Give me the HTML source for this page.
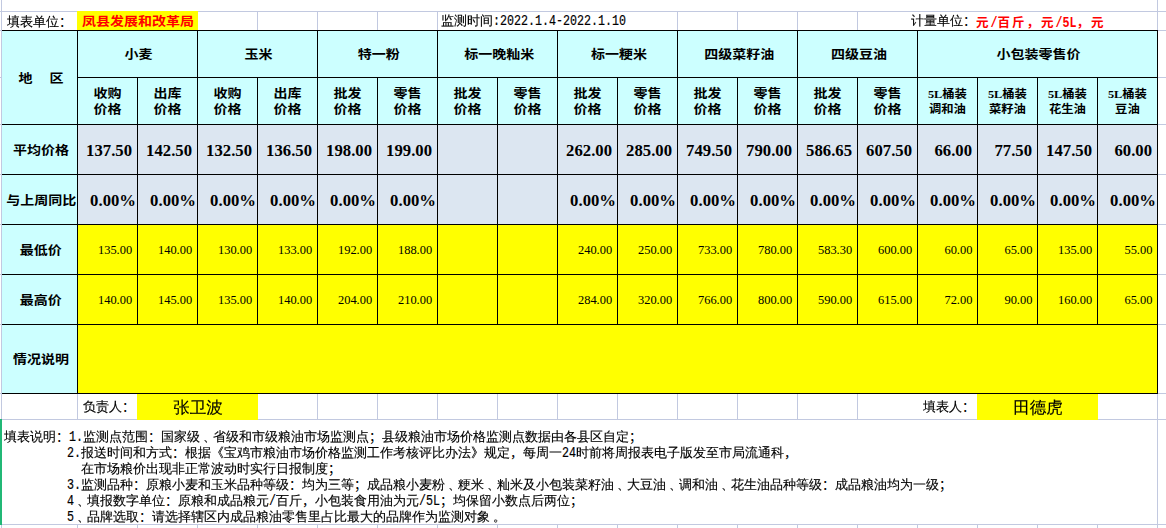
<!DOCTYPE html>
<html lang="zh-CN"><head><meta charset="utf-8"><title>粮油市场价格监测周报表</title>
<style>
html,body{margin:0;padding:0;background:#fff}
body{width:1166px;height:528px;position:relative;overflow:hidden;font-family:"Liberation Sans","WenQuanYi Zen Hei",sans-serif;color:#000}
div{position:absolute;box-sizing:border-box}
.c{display:flex;align-items:center;justify-content:center;text-align:center;white-space:nowrap}
.c span{display:block}
.s,.n{font-family:"Liberation Sans","WenQuanYi Zen Hei",sans-serif;font-size:13px;line-height:16px;white-space:nowrap;-webkit-text-stroke:.15px #000}
i{font-style:normal;font-family:"Liberation Mono",monospace;font-size:11.67px;display:inline-block;transform:scaleY(1.25);transform-origin:0 74%}
.l{justify-content:flex-start;padding-left:5px;padding-top:1px}
.l0{justify-content:flex-start;padding-left:4px}
.l1{justify-content:flex-start;padding-left:6px}
.l2{justify-content:flex-start;padding-left:5px}
.r1{justify-content:flex-end;padding-right:2px}
.red{color:#f00}
s{text-decoration:none;position:relative;left:3px}
u{text-decoration:none;font-family:"Liberation Sans","Noto Sans CJK SC",sans-serif;-webkit-text-stroke:0;line-height:0}
.hb{font-family:"Liberation Serif","Noto Sans CJK SC",sans-serif;font-weight:700;font-size:12.5px;line-height:16px}
.hb span,.hs span{transform:scaleX(1.12)}
.hb,.hs,.nb{padding-top:2px}
.l2 span{transform-origin:left center}
.ca{padding-left:3px}
.hs{font-family:"Liberation Serif","Noto Sans CJK SC",sans-serif;font-weight:700;font-size:11px;line-height:15px}
.ur{font-family:"Liberation Serif","Noto Sans CJK SC",sans-serif;font-weight:700;font-size:12.5px;letter-spacing:2px;color:#f00;justify-content:flex-start;padding-top:0}
.ur i{font-weight:bold;letter-spacing:0}
.nb{font-family:"Liberation Serif",serif;font-weight:bold;font-size:16.7px}
.nb{justify-content:flex-end;padding-right:5px}
.pc{padding-right:1px}
.nr{font-family:"Liberation Serif",serif;font-size:13.5px;justify-content:flex-end;padding-right:5px}
.nr span{transform:scaleX(.92);transform-origin:right center}
.name{font-family:"Liberation Sans","WenQuanYi Zen Hei",sans-serif;font-size:16.5px;-webkit-text-stroke:.15px #000;padding-top:3px;padding-left:2px}
</style></head>
<body>
<div style="left:0px;top:11px;width:1166px;height:1px;background:#c2c9e0;"></div>
<div style="left:0px;top:30px;width:1166px;height:1px;background:#c2c9e0;"></div>
<div style="left:0px;top:77px;width:1166px;height:1px;background:#c2c9e0;"></div>
<div style="left:0px;top:124px;width:1166px;height:1px;background:#c2c9e0;"></div>
<div style="left:0px;top:174px;width:1166px;height:1px;background:#c2c9e0;"></div>
<div style="left:0px;top:224px;width:1166px;height:1px;background:#c2c9e0;"></div>
<div style="left:0px;top:274px;width:1166px;height:1px;background:#c2c9e0;"></div>
<div style="left:0px;top:324px;width:1166px;height:1px;background:#c2c9e0;"></div>
<div style="left:0px;top:393px;width:1166px;height:1px;background:#c2c9e0;"></div>
<div style="left:0px;top:419px;width:1166px;height:1px;background:#c2c9e0;"></div>
<div style="left:0px;top:524px;width:1166px;height:1px;background:#c2c9e0;"></div>
<div style="left:1px;top:0px;width:1px;height:528px;background:#c2c9e0;"></div>
<div style="left:1157px;top:0px;width:1px;height:528px;background:#c2c9e0;"></div>
<div style="left:257px;top:12px;width:1px;height:18px;background:#c2c9e0;"></div>
<div style="left:317px;top:12px;width:1px;height:18px;background:#c2c9e0;"></div>
<div style="left:377px;top:12px;width:1px;height:18px;background:#c2c9e0;"></div>
<div style="left:437px;top:12px;width:1px;height:18px;background:#c2c9e0;"></div>
<div style="left:677px;top:12px;width:1px;height:18px;background:#c2c9e0;"></div>
<div style="left:737px;top:12px;width:1px;height:18px;background:#c2c9e0;"></div>
<div style="left:797px;top:12px;width:1px;height:18px;background:#c2c9e0;"></div>
<div style="left:857px;top:12px;width:1px;height:18px;background:#c2c9e0;"></div>
<div style="left:77px;top:394px;width:1px;height:25px;background:#c2c9e0;"></div>
<div style="left:317px;top:394px;width:1px;height:25px;background:#c2c9e0;"></div>
<div style="left:377px;top:394px;width:1px;height:25px;background:#c2c9e0;"></div>
<div style="left:437px;top:394px;width:1px;height:25px;background:#c2c9e0;"></div>
<div style="left:497px;top:394px;width:1px;height:25px;background:#c2c9e0;"></div>
<div style="left:557px;top:394px;width:1px;height:25px;background:#c2c9e0;"></div>
<div style="left:617px;top:394px;width:1px;height:25px;background:#c2c9e0;"></div>
<div style="left:677px;top:394px;width:1px;height:25px;background:#c2c9e0;"></div>
<div style="left:737px;top:394px;width:1px;height:25px;background:#c2c9e0;"></div>
<div style="left:797px;top:394px;width:1px;height:25px;background:#c2c9e0;"></div>
<div style="left:857px;top:394px;width:1px;height:25px;background:#c2c9e0;"></div>
<div style="left:77px;top:525px;width:1px;height:3px;background:#c2c9e0;"></div>
<div style="left:137px;top:525px;width:1px;height:3px;background:#c2c9e0;"></div>
<div style="left:197px;top:525px;width:1px;height:3px;background:#c2c9e0;"></div>
<div style="left:257px;top:525px;width:1px;height:3px;background:#c2c9e0;"></div>
<div style="left:317px;top:525px;width:1px;height:3px;background:#c2c9e0;"></div>
<div style="left:377px;top:525px;width:1px;height:3px;background:#c2c9e0;"></div>
<div style="left:437px;top:525px;width:1px;height:3px;background:#c2c9e0;"></div>
<div style="left:497px;top:525px;width:1px;height:3px;background:#c2c9e0;"></div>
<div style="left:557px;top:525px;width:1px;height:3px;background:#c2c9e0;"></div>
<div style="left:617px;top:525px;width:1px;height:3px;background:#c2c9e0;"></div>
<div style="left:677px;top:525px;width:1px;height:3px;background:#c2c9e0;"></div>
<div style="left:737px;top:525px;width:1px;height:3px;background:#c2c9e0;"></div>
<div style="left:797px;top:525px;width:1px;height:3px;background:#c2c9e0;"></div>
<div style="left:857px;top:525px;width:1px;height:3px;background:#c2c9e0;"></div>
<div style="left:917px;top:525px;width:1px;height:3px;background:#c2c9e0;"></div>
<div style="left:977px;top:525px;width:1px;height:3px;background:#c2c9e0;"></div>
<div style="left:1037px;top:525px;width:1px;height:3px;background:#c2c9e0;"></div>
<div style="left:1097px;top:525px;width:1px;height:3px;background:#c2c9e0;"></div>
<div style="left:0px;top:419px;width:2px;height:106px;background:#21b876;"></div>
<div style="left:2px;top:31px;width:1155px;height:362px;background:#ccffff;"></div>
<div style="left:78px;top:125px;width:1079px;height:99px;background:#dce6f1;"></div>
<div style="left:78px;top:225px;width:1079px;height:168px;background:#ffff00;"></div>
<div style="left:77px;top:11px;width:121px;height:19px;background:#ffff00;"></div>
<div style="left:137px;top:394px;width:121px;height:26px;background:#ffff00;"></div>
<div style="left:977px;top:394px;width:121px;height:26px;background:#ffff00;"></div>
<div style="left:2px;top:30px;width:1156px;height:1px;background:#000;"></div>
<div style="left:77px;top:77px;width:1081px;height:1px;background:#000;"></div>
<div style="left:2px;top:124px;width:1156px;height:1px;background:#000;"></div>
<div style="left:2px;top:174px;width:1156px;height:1px;background:#000;"></div>
<div style="left:2px;top:224px;width:1156px;height:1px;background:#000;"></div>
<div style="left:2px;top:274px;width:1156px;height:1px;background:#000;"></div>
<div style="left:2px;top:324px;width:1156px;height:1px;background:#000;"></div>
<div style="left:2px;top:393px;width:1156px;height:1px;background:#000;"></div>
<div style="left:1157px;top:30px;width:1px;height:364px;background:#000;"></div>
<div style="left:77px;top:30px;width:1px;height:364px;background:#000;"></div>
<div style="left:197px;top:30px;width:1px;height:295px;background:#000;"></div>
<div style="left:317px;top:30px;width:1px;height:295px;background:#000;"></div>
<div style="left:437px;top:30px;width:1px;height:295px;background:#000;"></div>
<div style="left:557px;top:30px;width:1px;height:295px;background:#000;"></div>
<div style="left:677px;top:30px;width:1px;height:295px;background:#000;"></div>
<div style="left:797px;top:30px;width:1px;height:295px;background:#000;"></div>
<div style="left:917px;top:30px;width:1px;height:295px;background:#000;"></div>
<div style="left:1037px;top:30px;width:1px;height:295px;background:#000;"></div>
<div style="left:137px;top:77px;width:1px;height:248px;background:#000;"></div>
<div style="left:257px;top:77px;width:1px;height:248px;background:#000;"></div>
<div style="left:377px;top:77px;width:1px;height:248px;background:#000;"></div>
<div style="left:497px;top:77px;width:1px;height:248px;background:#000;"></div>
<div style="left:617px;top:77px;width:1px;height:248px;background:#000;"></div>
<div style="left:737px;top:77px;width:1px;height:248px;background:#000;"></div>
<div style="left:857px;top:77px;width:1px;height:248px;background:#000;"></div>
<div style="left:977px;top:77px;width:1px;height:248px;background:#000;"></div>
<div style="left:1097px;top:77px;width:1px;height:248px;background:#000;"></div>
<div style="left:1037px;top:31px;width:1px;height:46px;background:#ccffff;"></div>
<div class="c s l" style="left:2px;top:12px;width:75px;height:18px"><span>填表单位<u>：</u></span></div>
<div class="c hb red l2" style="left:77px;top:12px;width:120px;height:18px"><span>凤县发展和改革局</span></div>
<div class="c s l0" style="left:437px;top:12px;width:240px;height:18px"><span>监测时间<i>:2022.1.4-2022.1.10</i></span></div>
<div class="c s l1" style="left:905px;top:12px;width:71px;height:18px"><span>计量单位<u>：</u></span></div>
<div class="c ur" style="left:976px;top:12px;width:181px;height:18px"><span>元<i>/</i>百斤，元<i>/5L</i>，元</span></div>
<div class="c hb ca" style="left:2px;top:31px;width:75px;height:93px"><span>地&emsp;&thinsp;区</span></div>
<div class="c hb ca" style="left:78px;top:31px;width:119px;height:46px"><span>小麦</span></div>
<div class="c hb ca" style="left:198px;top:31px;width:119px;height:46px"><span>玉米</span></div>
<div class="c hb ca" style="left:318px;top:31px;width:119px;height:46px"><span>特一粉</span></div>
<div class="c hb ca" style="left:438px;top:31px;width:119px;height:46px"><span>标一晚籼米</span></div>
<div class="c hb ca" style="left:558px;top:31px;width:119px;height:46px"><span>标一粳米</span></div>
<div class="c hb ca" style="left:678px;top:31px;width:119px;height:46px"><span>四级菜籽油</span></div>
<div class="c hb ca" style="left:798px;top:31px;width:119px;height:46px"><span>四级豆油</span></div>
<div class="c hb ca" style="left:918px;top:31px;width:239px;height:46px"><span>小包装零售价</span></div>
<div class="c hb" style="left:78px;top:78px;width:59px;height:46px"><span>收购<br>价格</span></div>
<div class="c hb" style="left:138px;top:78px;width:59px;height:46px"><span>出库<br>价格</span></div>
<div class="c hb" style="left:198px;top:78px;width:59px;height:46px"><span>收购<br>价格</span></div>
<div class="c hb" style="left:258px;top:78px;width:59px;height:46px"><span>出库<br>价格</span></div>
<div class="c hb" style="left:318px;top:78px;width:59px;height:46px"><span>批发<br>价格</span></div>
<div class="c hb" style="left:378px;top:78px;width:59px;height:46px"><span>零售<br>价格</span></div>
<div class="c hb" style="left:438px;top:78px;width:59px;height:46px"><span>批发<br>价格</span></div>
<div class="c hb" style="left:498px;top:78px;width:59px;height:46px"><span>零售<br>价格</span></div>
<div class="c hb" style="left:558px;top:78px;width:59px;height:46px"><span>批发<br>价格</span></div>
<div class="c hb" style="left:618px;top:78px;width:59px;height:46px"><span>零售<br>价格</span></div>
<div class="c hb" style="left:678px;top:78px;width:59px;height:46px"><span>批发<br>价格</span></div>
<div class="c hb" style="left:738px;top:78px;width:59px;height:46px"><span>零售<br>价格</span></div>
<div class="c hb" style="left:798px;top:78px;width:59px;height:46px"><span>批发<br>价格</span></div>
<div class="c hb" style="left:858px;top:78px;width:59px;height:46px"><span>零售<br>价格</span></div>
<div class="c hs" style="left:918px;top:78px;width:59px;height:46px"><span>5L桶装<br>调和油</span></div>
<div class="c hs" style="left:978px;top:78px;width:59px;height:46px"><span>5L桶装<br>菜籽油</span></div>
<div class="c hs" style="left:1038px;top:78px;width:59px;height:46px"><span>5L桶装<br>花生油</span></div>
<div class="c hs" style="left:1098px;top:78px;width:59px;height:46px"><span>5L桶装<br>豆油</span></div>
<div class="c hb ca" style="left:2px;top:125px;width:75px;height:49px"><span>平均价格</span></div>
<div class="c hb ca" style="left:2px;top:175px;width:75px;height:49px"><span>与上周同比</span></div>
<div class="c hb ca" style="left:2px;top:225px;width:75px;height:49px"><span>最低价</span></div>
<div class="c hb ca" style="left:2px;top:275px;width:75px;height:49px"><span>最高价</span></div>
<div class="c hb ca" style="left:2px;top:325px;width:75px;height:68px"><span>情况说明</span></div>
<div class="c nb" style="left:78px;top:125px;width:59px;height:49px"><span>137.50</span></div>
<div class="c nb pc" style="left:78px;top:175px;width:59px;height:49px"><span>0.00%</span></div>
<div class="c nr" style="left:78px;top:225px;width:59px;height:49px"><span>135.00</span></div>
<div class="c nr" style="left:78px;top:275px;width:59px;height:49px"><span>140.00</span></div>
<div class="c nb" style="left:138px;top:125px;width:59px;height:49px"><span>142.50</span></div>
<div class="c nb pc" style="left:138px;top:175px;width:59px;height:49px"><span>0.00%</span></div>
<div class="c nr" style="left:138px;top:225px;width:59px;height:49px"><span>140.00</span></div>
<div class="c nr" style="left:138px;top:275px;width:59px;height:49px"><span>145.00</span></div>
<div class="c nb" style="left:198px;top:125px;width:59px;height:49px"><span>132.50</span></div>
<div class="c nb pc" style="left:198px;top:175px;width:59px;height:49px"><span>0.00%</span></div>
<div class="c nr" style="left:198px;top:225px;width:59px;height:49px"><span>130.00</span></div>
<div class="c nr" style="left:198px;top:275px;width:59px;height:49px"><span>135.00</span></div>
<div class="c nb" style="left:258px;top:125px;width:59px;height:49px"><span>136.50</span></div>
<div class="c nb pc" style="left:258px;top:175px;width:59px;height:49px"><span>0.00%</span></div>
<div class="c nr" style="left:258px;top:225px;width:59px;height:49px"><span>133.00</span></div>
<div class="c nr" style="left:258px;top:275px;width:59px;height:49px"><span>140.00</span></div>
<div class="c nb" style="left:318px;top:125px;width:59px;height:49px"><span>198.00</span></div>
<div class="c nb pc" style="left:318px;top:175px;width:59px;height:49px"><span>0.00%</span></div>
<div class="c nr" style="left:318px;top:225px;width:59px;height:49px"><span>192.00</span></div>
<div class="c nr" style="left:318px;top:275px;width:59px;height:49px"><span>204.00</span></div>
<div class="c nb" style="left:378px;top:125px;width:59px;height:49px"><span>199.00</span></div>
<div class="c nb pc" style="left:378px;top:175px;width:59px;height:49px"><span>0.00%</span></div>
<div class="c nr" style="left:378px;top:225px;width:59px;height:49px"><span>188.00</span></div>
<div class="c nr" style="left:378px;top:275px;width:59px;height:49px"><span>210.00</span></div>
<div class="c nb" style="left:558px;top:125px;width:59px;height:49px"><span>262.00</span></div>
<div class="c nb pc" style="left:558px;top:175px;width:59px;height:49px"><span>0.00%</span></div>
<div class="c nr" style="left:558px;top:225px;width:59px;height:49px"><span>240.00</span></div>
<div class="c nr" style="left:558px;top:275px;width:59px;height:49px"><span>284.00</span></div>
<div class="c nb" style="left:618px;top:125px;width:59px;height:49px"><span>285.00</span></div>
<div class="c nb pc" style="left:618px;top:175px;width:59px;height:49px"><span>0.00%</span></div>
<div class="c nr" style="left:618px;top:225px;width:59px;height:49px"><span>250.00</span></div>
<div class="c nr" style="left:618px;top:275px;width:59px;height:49px"><span>320.00</span></div>
<div class="c nb" style="left:678px;top:125px;width:59px;height:49px"><span>749.50</span></div>
<div class="c nb pc" style="left:678px;top:175px;width:59px;height:49px"><span>0.00%</span></div>
<div class="c nr" style="left:678px;top:225px;width:59px;height:49px"><span>733.00</span></div>
<div class="c nr" style="left:678px;top:275px;width:59px;height:49px"><span>766.00</span></div>
<div class="c nb" style="left:738px;top:125px;width:59px;height:49px"><span>790.00</span></div>
<div class="c nb pc" style="left:738px;top:175px;width:59px;height:49px"><span>0.00%</span></div>
<div class="c nr" style="left:738px;top:225px;width:59px;height:49px"><span>780.00</span></div>
<div class="c nr" style="left:738px;top:275px;width:59px;height:49px"><span>800.00</span></div>
<div class="c nb" style="left:798px;top:125px;width:59px;height:49px"><span>586.65</span></div>
<div class="c nb pc" style="left:798px;top:175px;width:59px;height:49px"><span>0.00%</span></div>
<div class="c nr" style="left:798px;top:225px;width:59px;height:49px"><span>583.30</span></div>
<div class="c nr" style="left:798px;top:275px;width:59px;height:49px"><span>590.00</span></div>
<div class="c nb" style="left:858px;top:125px;width:59px;height:49px"><span>607.50</span></div>
<div class="c nb pc" style="left:858px;top:175px;width:59px;height:49px"><span>0.00%</span></div>
<div class="c nr" style="left:858px;top:225px;width:59px;height:49px"><span>600.00</span></div>
<div class="c nr" style="left:858px;top:275px;width:59px;height:49px"><span>615.00</span></div>
<div class="c nb" style="left:918px;top:125px;width:59px;height:49px"><span>66.00</span></div>
<div class="c nb pc" style="left:918px;top:175px;width:59px;height:49px"><span>0.00%</span></div>
<div class="c nr" style="left:918px;top:225px;width:59px;height:49px"><span>60.00</span></div>
<div class="c nr" style="left:918px;top:275px;width:59px;height:49px"><span>72.00</span></div>
<div class="c nb" style="left:978px;top:125px;width:59px;height:49px"><span>77.50</span></div>
<div class="c nb pc" style="left:978px;top:175px;width:59px;height:49px"><span>0.00%</span></div>
<div class="c nr" style="left:978px;top:225px;width:59px;height:49px"><span>65.00</span></div>
<div class="c nr" style="left:978px;top:275px;width:59px;height:49px"><span>90.00</span></div>
<div class="c nb" style="left:1038px;top:125px;width:59px;height:49px"><span>147.50</span></div>
<div class="c nb pc" style="left:1038px;top:175px;width:59px;height:49px"><span>0.00%</span></div>
<div class="c nr" style="left:1038px;top:225px;width:59px;height:49px"><span>135.00</span></div>
<div class="c nr" style="left:1038px;top:275px;width:59px;height:49px"><span>160.00</span></div>
<div class="c nb" style="left:1098px;top:125px;width:59px;height:49px"><span>60.00</span></div>
<div class="c nb pc" style="left:1098px;top:175px;width:59px;height:49px"><span>0.00%</span></div>
<div class="c nr" style="left:1098px;top:225px;width:59px;height:49px"><span>55.00</span></div>
<div class="c nr" style="left:1098px;top:275px;width:59px;height:49px"><span>65.00</span></div>
<div class="c s l1" style="left:77px;top:394px;width:60px;height:25px"><span>负责人<u>：</u></span></div>
<div class="c name" style="left:137px;top:394px;width:120px;height:25px"><span>张卫波</span></div>
<div class="c s r1" style="left:857px;top:394px;width:120px;height:25px"><span>填表人<u>：</u></span></div>
<div class="c name" style="left:977px;top:394px;width:120px;height:25px"><span>田德虎</span></div>
<div class="n" style="left:4px;top:429px">填表说明<u>：</u><i>1.</i>监测点范围<u>：</u>国家级<s>、</s>省级和市级粮油市场监测点<u>；</u>县级粮油市场价格监测点数据由各县区自定<u>；</u></div>
<div class="n" style="left:67px;top:445px"><i>2.</i>报送时间和方式<u>：</u>根据《宝鸡市粮油市场价格监测工作考核评比办法》规定<u>，</u>每周一<i>24</i>时前将周报表电子版发至市局流通科<u>，</u></div>
<div class="n" style="left:81px;top:461px">在市场粮价出现非正常波动时实行日报制度<u>；</u></div>
<div class="n" style="left:67px;top:477px"><i>3.</i>监测品种<u>：</u>原粮小麦和玉米品种等级<u>：</u>均为三等<u>；</u>成品粮小麦粉<s>、</s>粳米<s>、</s>籼米及小包装菜籽油<s>、</s>大豆油<s>、</s>调和油<s>、</s>花生油品种等级<u>：</u>成品粮油均为一级<u>；</u></div>
<div class="n" style="left:67px;top:493px"><i>4</i><s>、</s>填报数字单位<u>：</u>原粮和成品粮元<i>/</i>百斤<u>，</u>小包装食用油为元<i>/5L</i><u>；</u>均保留小数点后两位<u>；</u></div>
<div class="n" style="left:67px;top:509px"><i>5</i><s>、</s>品牌选取<u>：</u>请选择辖区内成品粮油零售里占比最大的品牌作为监测对象<s>。</s></div>
</body></html>
